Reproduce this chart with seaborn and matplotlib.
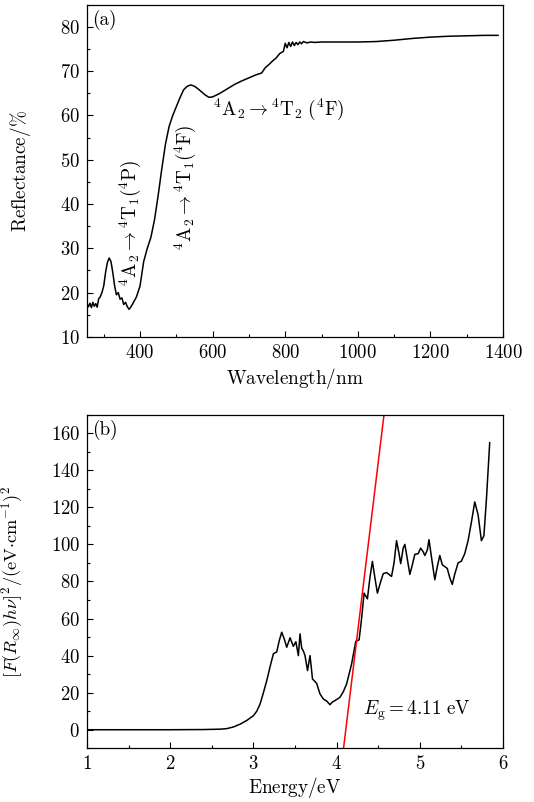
import numpy as np
import pandas as pd
import matplotlib
matplotlib.use("Agg")
import matplotlib.pyplot as plt
from matplotlib.ticker import MultipleLocator
import seaborn as sns

# Diffuse reflectance spectrum
wavelength = [254, 258, 262, 266, 270, 274, 278, 282, 286, 290, 295, 300, 305, 310,
              315, 320, 325, 330, 335, 340, 345, 350, 355, 360, 365, 370, 375, 380,
              390, 400, 410, 420, 430, 440, 450, 460, 470, 480, 490, 500, 510, 520,
              530, 540, 550, 560, 570, 580, 590, 600, 620, 640, 660, 680, 700, 720,
              735, 745, 755, 765, 775, 785, 795, 800, 805, 810, 815, 820, 825, 830,
              835, 840, 845, 850, 860, 870, 880, 900, 950, 1000, 1050, 1100, 1150,
              1200, 1250, 1300, 1350, 1387]
reflectance = [17.5, 16.8, 17.6, 16.6, 17.8, 16.9, 17.5, 16.7, 18.6, 19.0, 20.0, 21.5,
               24.5, 26.8, 27.8, 27.0, 24.5, 21.5, 19.5, 20.0, 18.5, 18.8, 17.3, 17.8,
               16.8, 16.2, 16.8, 17.5, 19.0, 21.5, 27.0, 30.0, 32.5, 36.5, 42.0, 48.0,
               53.5, 57.5, 60.0, 62.0, 64.0, 65.8, 66.6, 66.9, 66.6, 66.0, 65.3, 64.6,
               64.1, 64.2, 65.0, 66.0, 67.0, 67.8, 68.5, 69.2, 69.6, 70.8, 71.5, 72.3,
               73.0, 74.0, 74.5, 76.3, 75.3, 76.5, 75.6, 76.6, 75.8, 76.5, 76.0, 76.6,
               76.2, 76.7, 76.4, 76.6, 76.5, 76.6, 76.6, 76.6, 76.7, 77.0, 77.4, 77.7,
               77.9, 78.0, 78.1, 78.1]

# Kubelka-Munk transformed spectrum
energy = [1.0, 1.5, 2.0, 2.4, 2.6, 2.68, 2.76, 2.84, 2.92, 3.0, 3.04, 3.08, 3.12,
          3.16, 3.20, 3.24, 3.28, 3.31, 3.34, 3.37, 3.40, 3.44, 3.48, 3.51, 3.54,
          3.56, 3.58, 3.60, 3.62, 3.65, 3.68, 3.71, 3.76, 3.80, 3.84, 3.88, 3.92,
          3.95, 3.98, 4.04, 4.08, 4.12, 4.18, 4.23, 4.27, 4.30, 4.33, 4.37, 4.40,
          4.43, 4.46, 4.49, 4.53, 4.56, 4.60, 4.66, 4.69, 4.72, 4.75, 4.77, 4.80,
          4.82, 4.85, 4.88, 4.91, 4.94, 4.98, 5.01, 5.04, 5.06, 5.09, 5.11, 5.15,
          5.18, 5.21, 5.24, 5.27, 5.30, 5.33, 5.36, 5.39, 5.42, 5.46, 5.50, 5.54,
          5.58, 5.62, 5.66, 5.70, 5.74, 5.77, 5.80, 5.84]
km_value = [0.0, 0.0, 0.0, 0.1, 0.3, 0.6, 1.5, 3.0, 5.0, 7.6, 10.0, 13.9, 20.0,
            26.5, 34.0, 41.0, 42.0, 48.0, 52.6, 49.0, 44.5, 49.6, 45.0, 47.5, 40.0,
            51.7, 44.0, 42.5, 40.0, 31.9, 40.0, 27.4, 25.0, 19.3, 16.6, 15.5, 13.5,
            15.0, 15.7, 17.5, 20.5, 24.7, 35.5, 47.7, 48.5, 60.0, 73.7, 70.6, 82.0,
            90.8, 82.0, 73.7, 80.0, 84.2, 84.8, 82.7, 90.0, 102.0, 95.0, 89.6, 98.0,
            100.0, 92.0, 83.8, 89.0, 94.6, 95.0, 98.0, 96.0, 94.0, 97.0, 102.5, 90.0,
            80.9, 88.0, 94.0, 89.0, 88.0, 87.0, 82.0, 78.4, 84.0, 90.0, 91.0, 95.0,
            102.0, 112.0, 122.9, 116.0, 102.0, 104.6, 124.0, 155.0]

# Linear extrapolation of the absorption edge
band_gap = 4.11
edge_slope = 370.0
fit_energy = [4.08, 4.575]

df_r = pd.DataFrame({"wavelength": wavelength, "reflectance": reflectance})
df_k = pd.DataFrame({"energy": energy, "value": km_value})
df_fit = pd.DataFrame({"energy": fit_energy,
                       "value": [edge_slope * (e - band_gap) for e in fit_energy]})

sns.set_theme(style="ticks")
plt.rcParams.update({
    "font.family": "cmr10",
    "mathtext.fontset": "cm",
    "axes.formatter.use_mathtext": True,
    "font.size": 13.5,
    "axes.linewidth": 0.9,
    "axes.edgecolor": "black",
    "xtick.color": "black",
    "ytick.color": "black",
    "text.color": "black",
    "axes.labelcolor": "black",
})

LABEL_FS = 13.8
TICK_FS = 13.5

fig = plt.figure(figsize=(5.34, 8.02), dpi=100)
ax1 = fig.add_axes([0.163, 0.580, 0.779, 0.414])
ax2 = fig.add_axes([0.163, 0.067, 0.779, 0.416])

sns.lineplot(data=df_r, x="wavelength", y="reflectance", ax=ax1,
             color="black", linewidth=1.1, estimator=None, sort=False)
ax1.set_xlim(254, 1400)
ax1.set_ylim(10, 85)
ax1.xaxis.set_major_locator(MultipleLocator(200))
ax1.xaxis.set_minor_locator(MultipleLocator(100))
ax1.yaxis.set_major_locator(MultipleLocator(10))
ax1.yaxis.set_minor_locator(MultipleLocator(5))
ax1.set_xlabel(r"$\mathrm{Wavelength/nm}$", fontsize=LABEL_FS, labelpad=3)
ax1.set_ylabel(r"$\mathrm{Reflectance/\%}$", fontsize=LABEL_FS)
ax1.text(0.012, 0.955, "(a)", transform=ax1.transAxes, ha="left", va="center",
         fontsize=LABEL_FS)
ax1.text(601, 61.3, r"$^4\mathrm{A}_2\rightarrow{}^4\mathrm{T}_2\ (^4\mathrm{F})$",
         ha="left", va="center", fontsize=LABEL_FS)
ax1.text(372, 35.8, r"$^4\mathrm{A}_2\rightarrow{}^4\mathrm{T}_1(^4\mathrm{P})$",
         rotation=90, ha="center", va="center", fontsize=LABEL_FS)
ax1.text(524, 43.8, r"$^4\mathrm{A}_2\rightarrow{}^4\mathrm{T}_1(^4\mathrm{F})$",
         rotation=90, ha="center", va="center", fontsize=LABEL_FS)

sns.lineplot(data=df_k, x="energy", y="value", ax=ax2,
             color="black", linewidth=1.1, estimator=None, sort=False)
sns.lineplot(data=df_fit, x="energy", y="value", ax=ax2,
             color="red", linewidth=1.1, estimator=None, sort=False)
ax2.set_xlim(1, 6)
ax2.set_ylim(-10, 170)
ax2.xaxis.set_major_locator(MultipleLocator(1))
ax2.xaxis.set_minor_locator(MultipleLocator(0.5))
ax2.yaxis.set_major_locator(MultipleLocator(20))
ax2.yaxis.set_minor_locator(MultipleLocator(10))
ax2.set_xlabel(r"$\mathrm{Energy/eV}$", fontsize=LABEL_FS, labelpad=1)
ax2.set_ylabel(r"$[F(R_\infty)h\nu]^2/(\mathrm{eV{\cdot}cm}^{-1})^2$", fontsize=13.2)
ax2.text(0.012, 0.955, "(b)", transform=ax2.transAxes, ha="left", va="center",
         fontsize=LABEL_FS)
ax2.text(4.32, 10.3, r"$E_\mathrm{g}=4.11\ \mathrm{eV}$", ha="left", va="center",
         fontsize=LABEL_FS)

for ax in (ax1, ax2):
    ax.tick_params(which="both", direction="in", top=False, right=False,
                   labelsize=TICK_FS, pad=5)
    ax.tick_params(which="major", length=4, width=0.8)
    ax.tick_params(which="minor", length=2.5, width=0.8)
    for s in ax.spines.values():
        s.set_visible(True)

ax1.yaxis.set_label_coords(-0.13, 0.5)
ax2.yaxis.set_label_coords(-0.148, 0.5)

fig.savefig("out.png", dpi=100)
